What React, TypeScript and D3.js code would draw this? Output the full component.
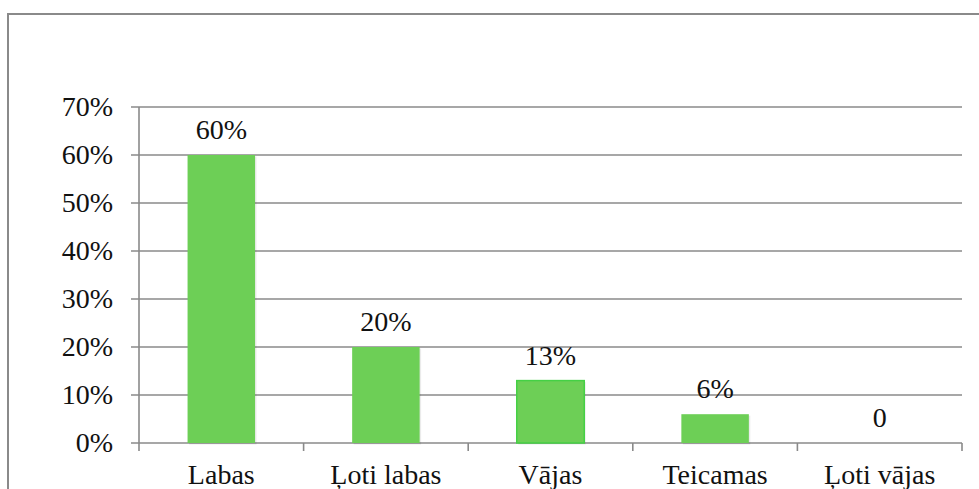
import React, { useRef, useEffect } from 'react';
import { select, scaleBand, scaleLinear } from 'd3';

const categories = ['Labas', 'Ļoti labas', 'Vājas', 'Teicamas', 'Ļoti vājas'];
const values = [0.6, 0.2, 0.13, 0.06, 0];
const valueLabels = ['60%', '20%', '13%', '6%', '0'];
const yTicks = [0, 0.1, 0.2, 0.3, 0.4, 0.5, 0.6, 0.7];
const yTickLabels = ['0%', '10%', '20%', '30%', '40%', '50%', '60%', '70%'];

const W = 979;
const H = 489;
const FONT = '"Liberation Serif", "Times New Roman", serif';
const green = '#6dcf56';
const grid = '#8a8a8a';

function App() {
  const svgRef = useRef<SVGSVGElement>(null);

  useEffect(() => {
    const svg = select(svgRef.current);
    svg.selectAll('*').remove();

    const x = scaleBand().domain(categories).range([139, 962]).padding(0);
    const y = scaleLinear().domain([0, 0.7]).range([443, 107]);
    const barW = x.bandwidth() * 0.41;

    // outer frame (right and bottom edges are off the picture)
    svg
      .append('rect')
      .attr('x', 8)
      .attr('y', 14)
      .attr('width', W + 20)
      .attr('height', H + 20)
      .attr('fill', 'none')
      .attr('stroke', grid)
      .attr('stroke-width', 2);

    // gridlines
    svg
      .selectAll('.grid')
      .data(yTicks)
      .join('line')
      .attr('class', 'grid')
      .attr('x1', 131)
      .attr('x2', 962)
      .attr('y1', d => y(d))
      .attr('y2', d => y(d))
      .attr('stroke', grid)
      .attr('stroke-width', 1.6);

    // y axis line
    svg
      .append('line')
      .attr('x1', 139)
      .attr('x2', 139)
      .attr('y1', y(0.7))
      .attr('y2', y(0) + 8)
      .attr('stroke', grid)
      .attr('stroke-width', 1.6);

    // category tick marks
    svg
      .selectAll('.xtick')
      .data(categories)
      .join('line')
      .attr('class', 'xtick')
      .attr('x1', d => (x(d) as number) + x.bandwidth())
      .attr('x2', d => (x(d) as number) + x.bandwidth())
      .attr('y1', y(0))
      .attr('y2', y(0) + 8)
      .attr('stroke', grid)
      .attr('stroke-width', 1.6);

    // y labels
    svg
      .selectAll('.ylabel')
      .data(yTicks)
      .join('text')
      .attr('class', 'ylabel')
      .attr('x', 113)
      .attr('y', d => y(d) + 9)
      .attr('text-anchor', 'end')
      .text((d, i) => yTickLabels[i]);

    // bar shadows
    svg
      .selectAll('.shadow')
      .data(values)
      .join('rect')
      .attr('class', 'shadow')
      .attr('x', (d, i) => (x(categories[i]) as number) + (x.bandwidth() - barW) / 2 + 1.5)
      .attr('y', d => y(d) + 1.5)
      .attr('width', barW)
      .attr('height', d => y(0) - y(d))
      .attr('fill', '#000')
      .attr('opacity', d => (d > 0 ? 0.08 : 0));

    // bars
    svg
      .selectAll('.bar')
      .data(values)
      .join('rect')
      .attr('class', 'bar')
      .attr('x', (d, i) => (x(categories[i]) as number) + (x.bandwidth() - barW) / 2)
      .attr('y', d => y(d))
      .attr('width', barW)
      .attr('height', d => y(0) - y(d))
      .attr('fill', green)
      .attr('stroke', (d, i) => (i === 2 ? '#45d045' : 'none'))
      .attr('stroke-width', 1.5);

    // value labels
    svg
      .selectAll('.value')
      .data(values)
      .join('text')
      .attr('class', 'value')
      .attr('x', (d, i) => (x(categories[i]) as number) + x.bandwidth() / 2)
      .attr('y', d => y(d) - 16)
      .attr('text-anchor', 'middle')
      .text((d, i) => valueLabels[i]);

    // category labels
    svg
      .selectAll('.cat')
      .data(categories)
      .join('text')
      .attr('class', 'cat')
      .attr('x', d => (x(d) as number) + x.bandwidth() / 2)
      .attr('y', 484)
      .attr('text-anchor', 'middle')
      .text(d => d);

    svg
      .selectAll('text')
      .attr('font-family', FONT)
      .attr('font-size', 28)
      .attr('fill', '#111');
  }, []);

  return (
    <div style={{ position: 'absolute', left: 0, top: 0, width: W, height: H, background: '#fff' }}>
      <svg ref={svgRef} width={W} height={H}></svg>
    </div>
  );
}

export default App;
